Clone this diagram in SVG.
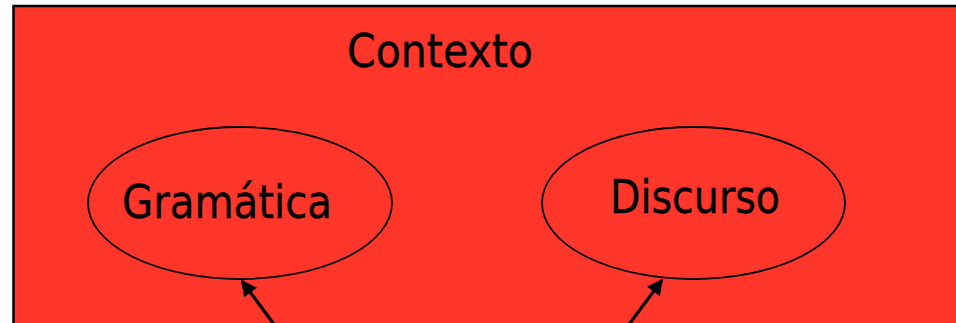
<svg xmlns="http://www.w3.org/2000/svg" width="956" height="323" viewBox="0 0 956 323">
<defs>
<style>
.lbl{font-family:"DejaVu Sans","Verdana",sans-serif;font-size:47px;fill:#000;stroke:#000;stroke-width:0.4}
.node ellipse{fill:#FF3629;stroke:#000;stroke-width:1.8}
.conn{stroke:#000;stroke-width:3.2;fill:none}
</style>
<marker id="ah" viewBox="0 0 10 10" refX="9" refY="5" markerWidth="6" markerHeight="5" markerUnits="strokeWidth" orient="auto">
<path d="M0,0 L10,5 L0,10 Z" fill="#000"/>
</marker>
</defs>
<rect width="956" height="323" fill="#fff"/>
<g id="contexto">
<rect x="13.5" y="6" width="960" height="340" fill="#FF3629" stroke="#000" stroke-width="2.5"/>
<text class="lbl" x="347" y="67" textLength="186" lengthAdjust="spacingAndGlyphs">Contexto</text>
</g>
<g id="gramatica" class="node">
<ellipse cx="240" cy="203" rx="152" ry="76"/>
<text class="lbl" x="122" y="218" textLength="210" lengthAdjust="spacingAndGlyphs">Gramática</text>
</g>
<g id="discurso" class="node">
<ellipse cx="693.5" cy="203" rx="151.5" ry="76"/>
<text class="lbl" x="610" y="213" textLength="170" lengthAdjust="spacingAndGlyphs">Discurso</text>
</g>
<g id="connectors">
<line class="conn" x1="290" y1="346" x2="242" y2="281" marker-end="url(#ah)"/>
<line class="conn" x1="613" y1="346" x2="662" y2="280" marker-end="url(#ah)"/>
</g>
</svg>
